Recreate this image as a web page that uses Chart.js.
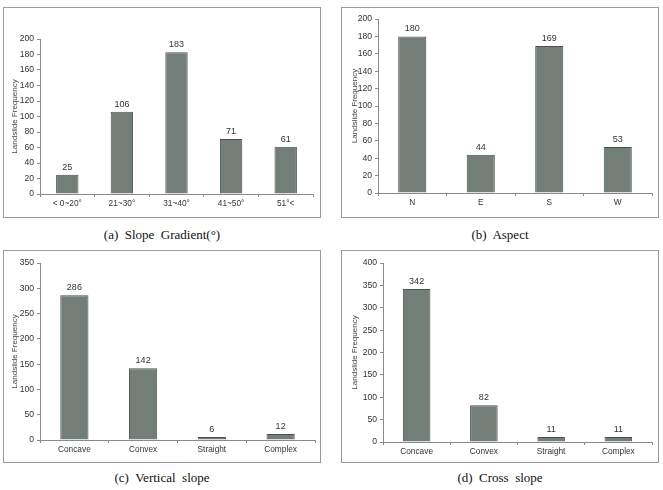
<!DOCTYPE html>
<html>
<head>
<meta charset="utf-8">
<script src="https://cdn.jsdelivr.net/npm/chart.js@4.4.1/dist/chart.umd.min.js"></script>
<style>
  body { margin: 0; background: #fff; }
  #page { position: relative; width: 663px; height: 490px; overflow: hidden; }
  .panel { position: absolute; border: 1px solid #9a9a9a; box-sizing: border-box; }
  .panel canvas { position: absolute; left: 0; top: 0; }
  .caption {
    position: absolute; text-align: center; white-space: pre;
    font-family: "Liberation Serif", "Times New Roman", serif; font-size: 13px; color: #111;
    line-height: 16px;
  }
</style>
</head>
<body>
<div id="page"></div>
<script>
// data
const gradientLabels = ['< 0~20°', '21~30°', '31~40°', '41~50°', '51°<'];
const gradientCounts = [25, 106, 183, 71, 61];
const aspectLabels = ['N', 'E', 'S', 'W'];
const aspectCounts = [180, 44, 169, 53];
const verticalLabels = ['Concave', 'Convex', 'Straight', 'Complex'];
const verticalCounts = [286, 142, 6, 12];
const crossLabels = ['Concave', 'Convex', 'Straight', 'Complex'];
const crossCounts = [342, 82, 11, 11];
const yMaxes = [200, 200, 350, 400];
const ySteps = [20, 20, 50, 50];
const captions = ['(a)  Slope  Gradient(°)', '(b)  Aspect', '(c)  Vertical  slope', '(d)  Cross  slope'];

// layout: panel box and plot area, page pixels
const panels = [
  { box: [3, 7, 318, 211], area: [40, 39, 313, 194], capY: 227 },
  { box: [341, 7, 318, 211], area: [378, 19, 652, 193], capY: 227 },
  { box: [3, 250, 318, 213], area: [40, 263, 315, 440], capY: 470 },
  { box: [341, 250, 318, 213], area: [383, 263, 652, 442], capY: 470 }
];
const titleOffsets = [6, 8, 6, 8];

const page = document.getElementById('page');
const sans = '"Liberation Sans", Arial, sans-serif';

const valueLabels = {
  id: 'valueLabels',
  afterDatasetsDraw(chart) {
    const ctx = chart.ctx;
    const meta = chart.getDatasetMeta(0);
    ctx.save();
    ctx.font = '9px ' + sans;
    ctx.fillStyle = '#333';
    ctx.textAlign = 'center';
    ctx.textBaseline = 'bottom';
    meta.data.forEach((bar, i) => {
      ctx.fillText(String(chart.data.datasets[0].data[i]), bar.x, bar.y - 3);
    });
    ctx.restore();
  }
};

function crearPanel(idx, labels, values) {
  const p = panels[idx];
  const [bx, by, bw, bh] = p.box;
  const div = document.createElement('div');
  div.className = 'panel';
  div.style.left = bx + 'px';
  div.style.top = by + 'px';
  div.style.width = bw + 'px';
  div.style.height = bh + 'px';
  page.appendChild(div);

  const cx = bx + 1, cy = by + 1, cw = bw - 2, ch = bh - 2;
  const canvas = document.createElement('canvas');
  canvas.width = cw;
  canvas.height = ch;
  canvas.style.width = cw + 'px';
  canvas.style.height = ch + 'px';
  div.appendChild(canvas);

  const [L, T, R, B] = p.area;
  const yWidth = L - cx;
  const xHeight = (cy + ch) - B;

  const cap = document.createElement('div');
  cap.className = 'caption';
  cap.textContent = captions[idx];
  cap.style.left = bx + 'px';
  cap.style.width = bw + 'px';
  cap.style.top = p.capY + 'px';
  page.appendChild(cap);

  new Chart(canvas, {
    type: 'bar',
    data: {
      labels,
      datasets: [{
        data: values,
        backgroundColor: '#737e78',
        borderColor: '#4a514d',
        borderWidth: 1,
        barPercentage: 0.41,
        categoryPercentage: 1
      }]
    },
    options: {
      responsive: false,
      animation: false,
      layout: { padding: { left: 0, right: (cx + cw) - R, top: T - cy, bottom: 0 } },
      plugins: { legend: { display: false }, tooltip: { enabled: false } },
      scales: {
        x: {
          grid: { drawOnChartArea: false, offset: true, tickLength: 3, color: '#8a8a8a' },
          border: { color: '#8a8a8a' },
          ticks: { font: { family: sans, size: 8.3 }, color: '#333', padding: 2, maxRotation: 0 },
          afterFit(scale) { scale.height = xHeight; }
        },
        y: {
          min: 0,
          max: yMaxes[idx],
          ticks: { stepSize: ySteps[idx], font: { family: sans, size: 8.6 }, color: '#333', padding: 3 },
          grid: { drawOnChartArea: false, tickLength: 3, color: '#8a8a8a' },
          border: { color: '#8a8a8a' },
          title: {
            display: true,
            text: 'Landslide Frequency',
            color: '#444',
            font: { family: sans, size: 8 },
            padding: { top: titleOffsets[idx], bottom: 0 }
          },
          afterFit(scale) { scale.width = yWidth; }
        }
      }
    },
    plugins: [valueLabels]
  });
}

crearPanel(0, gradientLabels, gradientCounts);
crearPanel(1, aspectLabels, aspectCounts);
crearPanel(2, verticalLabels, verticalCounts);
crearPanel(3, crossLabels, crossCounts);
</script>
</body>
</html>
